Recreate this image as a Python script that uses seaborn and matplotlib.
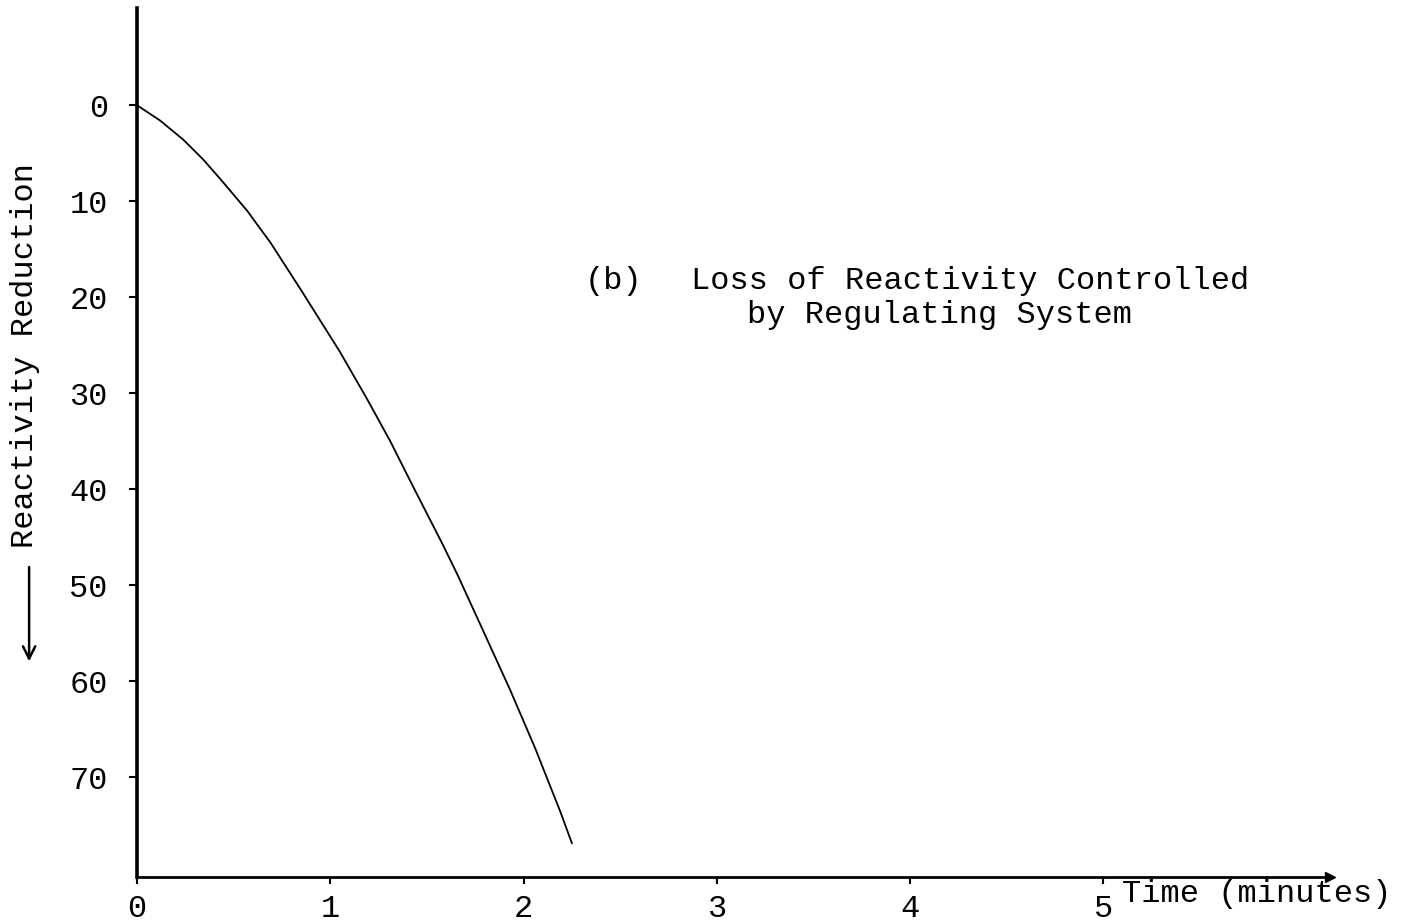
"""
Reactivity reduction vs. time, loss of reactivity controlled by regulating system.
"""

import matplotlib

matplotlib.use("Agg")
import matplotlib.pyplot as plt
import pandas as pd
import seaborn as sns

# ---------------------------------------------------------------------------
# Data
# ---------------------------------------------------------------------------

time_min = [0.0, 0.12, 0.24, 0.34, 0.44, 0.57, 0.69, 0.85, 1.05, 1.19, 1.31,
            1.43, 1.58, 1.66, 1.81, 1.93, 2.06, 2.19, 2.25]
reduction = [0.0, 1.6, 3.6, 5.6, 7.9, 11.0, 14.3, 19.3, 25.7, 30.6, 35.0,
             39.8, 45.7, 49.0, 55.6, 60.9, 67.0, 73.6, 76.9]

x_ticks = [0, 1, 2, 3, 4, 5]
x_tick_labels = ["0", "1", "2", "3", "4", "5"]
y_ticks = [0, 10, 20, 30, 40, 50, 60, 70]
y_tick_labels = ["0", "10", "20", "30", "40", "50", "60", "70"]

df = pd.DataFrame({"time": time_min, "reduction": reduction})

# ---------------------------------------------------------------------------
# Plot
# ---------------------------------------------------------------------------

sns.set_style("ticks")
plt.rcParams["font.family"] = ["Liberation Mono", "DejaVu Sans Mono"]
plt.rcParams["text.color"] = "black"
plt.rcParams["axes.labelcolor"] = "black"

fig = plt.figure(figsize=(14.07, 9.24), dpi=100)
ax = fig.add_axes([0.0974, 0.0509, 0.8476, 0.9401])

sns.lineplot(data=df, x="time", y="reduction", color="black", linewidth=1.3,
             estimator=None, sort=False, ax=ax,
             solid_joinstyle="round", solid_capstyle="round")

ax.set_xlim(0, 6.17)
ax.set_ylim(80.4, -10.1)

ax.set_xticks(x_ticks)
ax.set_xticklabels(x_tick_labels)
ax.set_yticks(y_ticks)
ax.set_yticklabels(y_tick_labels)
ax.tick_params(axis="y", direction="out", length=6, width=1.5, pad=15,
               labelsize=23, colors="black")
ax.tick_params(axis="x", direction="out", length=5, width=1.5, pad=7,
               labelsize=23, colors="black")

sns.despine(ax=ax)
ax.spines["left"].set_linewidth(2.6)
ax.spines["bottom"].set_linewidth(2.0)
ax.spines["left"].set_color("black")
ax.spines["bottom"].set_color("black")

# arrowhead at the end of the time axis
ax.plot(1.0, 0.0, marker=">", color="black", markersize=7,
        transform=ax.transAxes, clip_on=False)

# axis labels
ax.set_xlabel("Time (minutes)", fontsize=23, ha="left", va="center")
ax.xaxis.set_label_coords(0.826, -0.02)
ax.set_ylabel("Reactivity Reduction", fontsize=23, va="center")
ax.yaxis.set_label_coords(-0.094, 0.60)
ax.annotate("", xy=(-0.0905, 0.245), xytext=(-0.0905, 0.36),
            xycoords="axes fraction", textcoords="axes fraction",
            arrowprops=dict(arrowstyle="->", color="black", lw=1.8,
                            mutation_scale=22))

# curve description
ax.text(2.315, 18.3, "(b)", fontsize=23, ha="left", va="center")
ax.text(2.868, 18.3, "Loss of Reactivity Controlled", fontsize=23,
        ha="left", va="center")
ax.text(3.158, 21.9, "by Regulating System", fontsize=23,
        ha="left", va="center")

fig.savefig("out.png", dpi=100)
